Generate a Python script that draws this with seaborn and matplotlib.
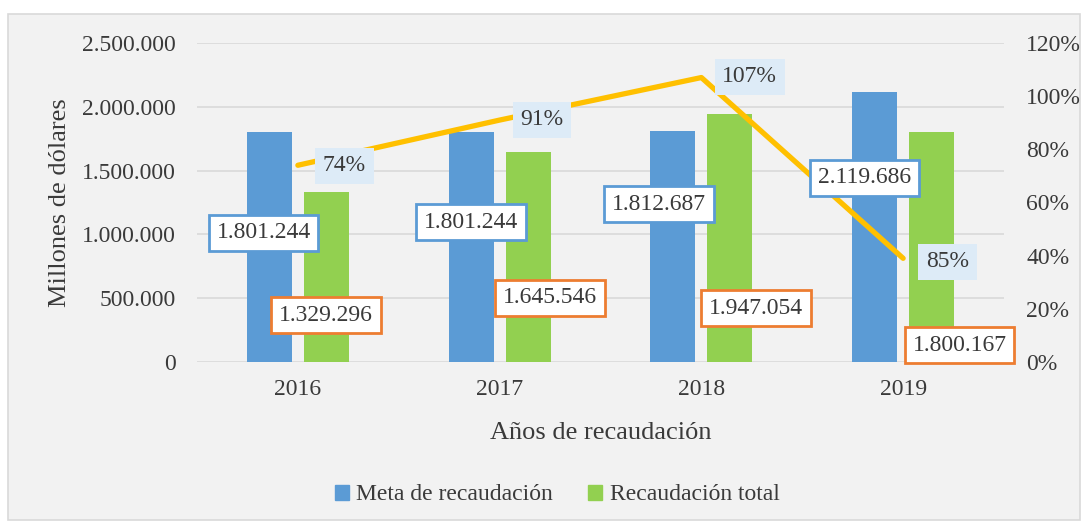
import pandas as pd
import numpy as np
import seaborn as sns
import matplotlib.pyplot as plt
from matplotlib.patches import Patch, Rectangle

# Data
years = ['2016', '2017', '2018', '2019']
meta = [1801244, 1801244, 1812687, 2119686]
total = [1329296, 1645546, 1947054, 1800167]
pct_line = [0.74, 0.91, 1.07, 0.39]
pct_labels = ['74%', '91%', '107%', '85%']

# label placement (category offset, y value) as laid out in the original
meta_pos = [(-0.17, 1011000), (0.86, 1097000), (1.79, 1238000), (2.81, 1442000)]
total_pos = [(0.14, 368000), (1.25, 502000), (2.27, 423000), (3.28, 133000)]
pct_pos = [(0.23, 1536000), (1.21, 1897000), (2.24, 2234000), (3.22, 784000)]

blue, green, orange, gold = '#5B9BD5', '#92D050', '#ED7D31', '#FFC000'
txt = '#3a3a3a'

df = pd.DataFrame({
    'year': years * 2,
    'value': meta + total,
    'serie': ['Meta de recaudación'] * 4 + ['Recaudación total'] * 4,
})

sns.set_theme(style='white')
plt.rcParams['font.family'] = ['Liberation Serif', 'DejaVu Serif']

fig = plt.figure(figsize=(10.86, 5.26), dpi=100, facecolor='white')
fig.patches.append(Rectangle((8 / 1086, 1 - 520 / 526), 1072 / 1086, 506 / 526,
                             transform=fig.transFigure, facecolor='#F2F2F2',
                             edgecolor='#D9D9D9', linewidth=1.2, zorder=-10))

ax = fig.add_axes([0.1814, 0.3118, 0.7431, 0.6065])
ax.set_facecolor('none')
sns.barplot(data=df, x='year', y='value', hue='serie', ax=ax,
            palette=[blue, green], width=0.564, gap=0.21, legend=False,
            saturation=1, linewidth=0)
ax.set_ylim(0, 2500000)
ax.set_xlim(-0.5, 3.5)
ax.set_yticks(np.arange(0, 2500001, 500000))
ax.set_yticklabels([f'{v:,}'.replace(',', '.') for v in range(0, 2500001, 500000)])
ax.yaxis.grid(True, color='#D9D9D9', linewidth=1.2)
ax.set_axisbelow(True)
for s in ax.spines.values():
    s.set_visible(False)
ax.tick_params(axis='y', length=0, pad=15, labelsize=17, labelcolor=txt)
ax.tick_params(axis='x', length=0, pad=12, labelsize=17, labelcolor=txt)
ax.set_xlabel('Años de recaudación', fontsize=19, color=txt, labelpad=16)
ax.set_ylabel('Millones de dólares', fontsize=19, color=txt, labelpad=8)

ax2 = ax.twinx()
sns.lineplot(x=np.arange(len(years)), y=pct_line, ax=ax2, color=gold,
             linewidth=3.8)
ax2.set_ylim(0, 1.2)
ax2.set_yticks(np.arange(0, 1.21, 0.2))
ax2.set_yticklabels([f'{int(round(v * 100))}%' for v in np.arange(0, 1.21, 0.2)])
ax2.tick_params(axis='y', length=0, pad=16, labelsize=17, labelcolor=txt)
for s in ax2.spines.values():
    s.set_visible(False)
ax2.grid(False)

for i in range(len(years)):
    dx, y = meta_pos[i]
    ax2.text(dx, y, f'{meta[i]:,}'.replace(',', '.'), transform=ax.transData,
             ha='center', va='center', fontsize=17, color=txt, zorder=5,
             bbox=dict(boxstyle='square,pad=0.33', fc='white', ec=blue, lw=2))
    dx, y = total_pos[i]
    ax2.text(dx, y, f'{total[i]:,}'.replace(',', '.'), transform=ax.transData,
             ha='center', va='center', fontsize=17, color=txt, zorder=5,
             bbox=dict(boxstyle='square,pad=0.33', fc='white', ec=orange, lw=2))
    dx, y = pct_pos[i]
    ax2.text(dx, y, pct_labels[i], transform=ax.transData,
             ha='center', va='center', fontsize=17, color=txt, zorder=5,
             bbox=dict(boxstyle='square,pad=0.33', fc='#DDEBF7', ec='none'))

handles = [Patch(color=blue, label='Meta de recaudación'),
           Patch(color=green, label='Recaudación total')]
fig.legend(handles=handles, loc='center', bbox_to_anchor=(0.513, 0.059), ncol=2,
           frameon=False, fontsize=17, handlelength=0.6, handleheight=0.6,
           handletextpad=0.3, columnspacing=1.5, labelcolor=txt)

fig.savefig('out.png', dpi=100, facecolor='white')
